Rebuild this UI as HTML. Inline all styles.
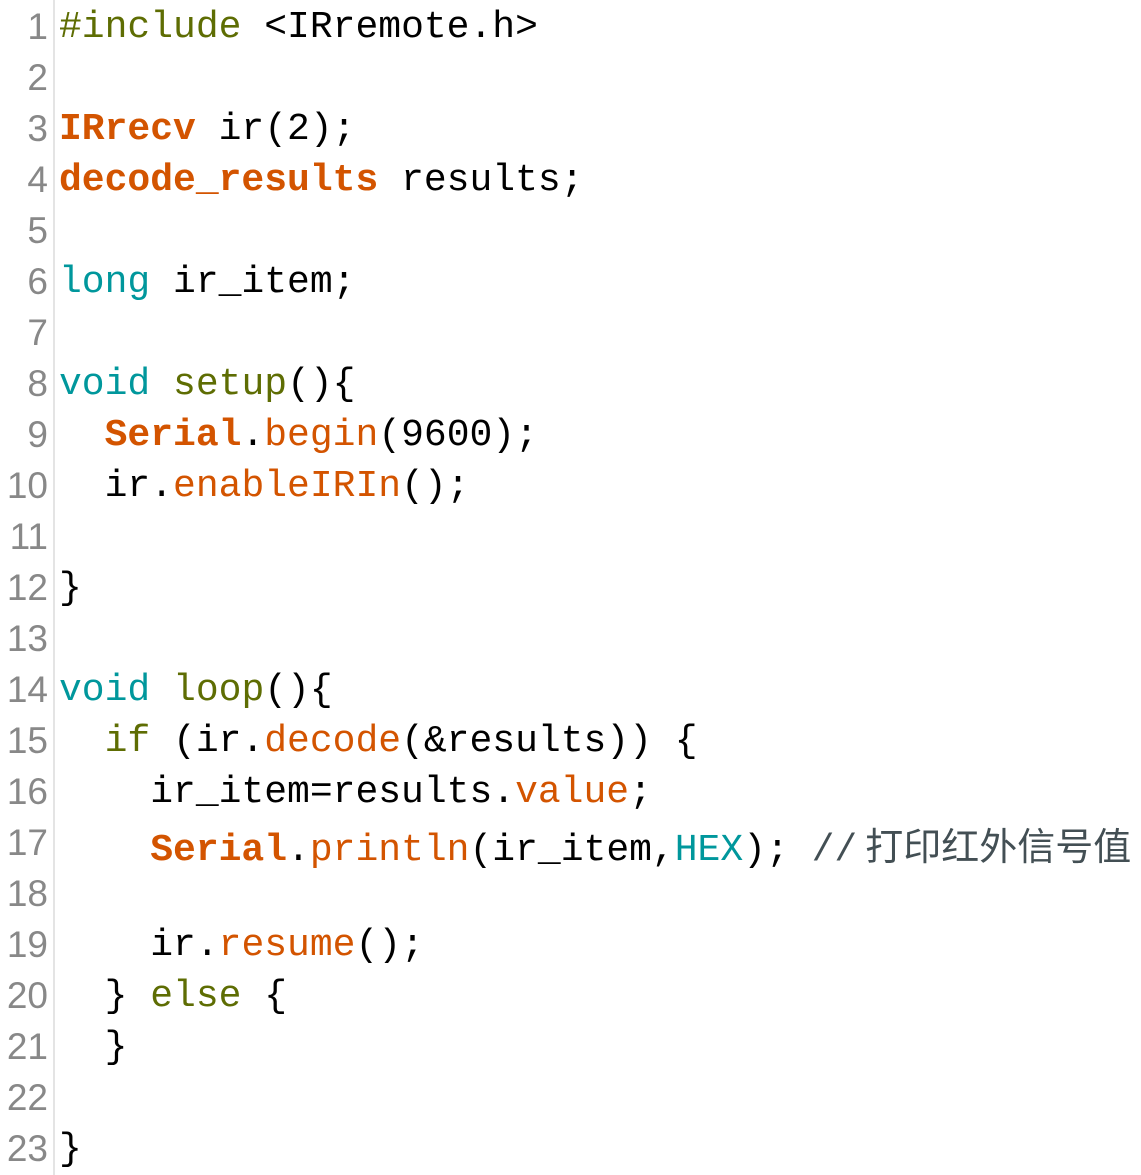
<!DOCTYPE html>
<html><head><meta charset="utf-8"><style>
html,body{margin:0;padding:0;background:#fff;width:1141px;height:1175px;overflow:hidden}
.wrap{position:relative;width:1141px;height:1175px}
.gut{position:absolute;left:53px;top:0;width:2px;height:1175px;background:#e4e4e4}
.ln{position:absolute;left:0;width:48px;text-align:right;font-family:"Liberation Sans",sans-serif;font-size:37px;color:#888;line-height:51px;height:51px;margin-top:1px}
.code{position:absolute;left:59px;font-family:"Liberation Mono","Noto Sans CJK SC",monospace;font-size:38px;line-height:51px;height:51px;white-space:pre;color:#000;margin-top:2px}
.pp{color:#5e6d03}.ty{color:#d35400;font-weight:bold}.kw{color:#00979c}.fn{color:#5e6d03}.me{color:#d35400}.cm{color:#434f54}
.cn{font-family:"Noto Sans CJK SC",sans-serif;font-size:38px;margin-left:8px}
</style></head><body><div class="wrap">
<div class="gut"></div>
<div class="ln" style="top:0">1</div>
<div class="ln" style="top:51px">2</div>
<div class="ln" style="top:102px">3</div>
<div class="ln" style="top:153px">4</div>
<div class="ln" style="top:204px">5</div>
<div class="ln" style="top:255px">6</div>
<div class="ln" style="top:306px">7</div>
<div class="ln" style="top:357px">8</div>
<div class="ln" style="top:408px">9</div>
<div class="ln" style="top:459px">10</div>
<div class="ln" style="top:510px">11</div>
<div class="ln" style="top:561px">12</div>
<div class="ln" style="top:612px">13</div>
<div class="ln" style="top:663px">14</div>
<div class="ln" style="top:714px">15</div>
<div class="ln" style="top:765px">16</div>
<div class="ln" style="top:816px">17</div>
<div class="ln" style="top:867px">18</div>
<div class="ln" style="top:918px">19</div>
<div class="ln" style="top:969px">20</div>
<div class="ln" style="top:1020px">21</div>
<div class="ln" style="top:1071px">22</div>
<div class="ln" style="top:1122px">23</div>

<div class="code" style="top:0"><span class="pp">#include</span> &lt;IRremote.h&gt;</div>
<div class="code" style="top:102px"><span class="ty">IRrecv</span> ir(2);</div>
<div class="code" style="top:153px"><span class="ty">decode_results</span> results;</div>
<div class="code" style="top:255px"><span class="kw">long</span> ir_item;</div>
<div class="code" style="top:357px"><span class="kw">void</span> <span class="fn">setup</span>(){</div>
<div class="code" style="top:408px">  <span class="ty">Serial</span>.<span class="me">begin</span>(9600);</div>
<div class="code" style="top:459px">  ir.<span class="me">enableIRIn</span>();</div>
<div class="code" style="top:561px">}</div>
<div class="code" style="top:663px"><span class="kw">void</span> <span class="fn">loop</span>(){</div>
<div class="code" style="top:714px">  <span class="fn">if</span> (ir.<span class="me">decode</span>(&amp;results)) {</div>
<div class="code" style="top:765px">    ir_item=results.<span class="me">value</span>;</div>
<div class="code" style="top:816px">    <span class="ty">Serial</span>.<span class="me">println</span>(ir_item,<span class="kw">HEX</span>); <span class="cm">//<span class="cn">打印红外信号值</span></span></div>
<div class="code" style="top:918px">    ir.<span class="me">resume</span>();</div>
<div class="code" style="top:969px">  } <span class="fn">else</span> {</div>
<div class="code" style="top:1020px">  }</div>
<div class="code" style="top:1122px">}</div>
</div></body></html>
